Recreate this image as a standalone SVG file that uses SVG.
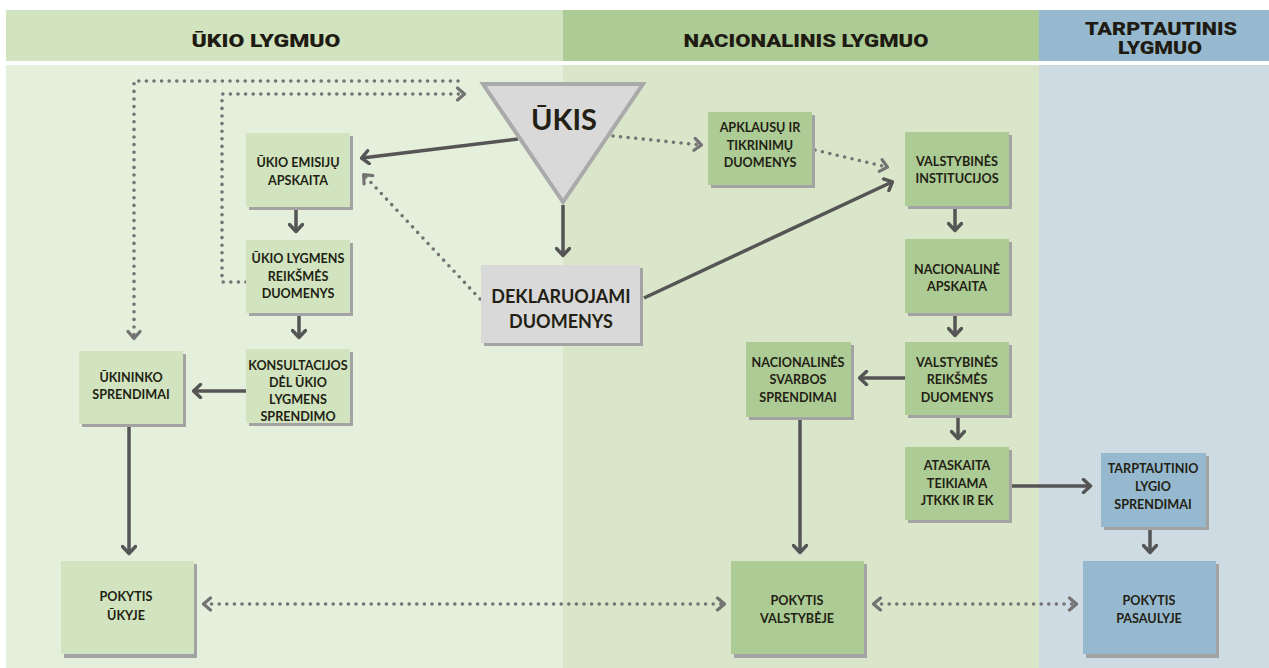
<svg xmlns="http://www.w3.org/2000/svg" width="1269" height="668" viewBox="0 0 1269 668">
<defs>
<style>
.hdr{font-family:Roboto,"Liberation Sans",sans-serif;font-weight:900;font-size:18.5px;fill:#1f1b12;text-anchor:middle}
.t{font-family:Lato,"Liberation Sans",sans-serif;font-weight:700;font-size:12.6px;fill:#231f14;text-anchor:middle}
.big{font-family:Lato,"Liberation Sans",sans-serif;font-weight:700;font-size:18px;fill:#231f14;text-anchor:middle}
.sh{fill:#a3a3a3}
.lg{fill:#d1e4bf}
.gr{fill:#adcb95}
.bl{fill:#96b9cf}
.gy{fill:#d9d9d9}
.solid{fill:none;stroke:#555;stroke-width:3.5;marker-end:url(#ah)}
.dot{fill:none;stroke:#737373;stroke-width:3.6;stroke-dasharray:0 7.6;stroke-linecap:round;marker-end:url(#ad)}
.dot2{fill:none;stroke:#737373;stroke-width:3.6;stroke-dasharray:0 7.6;stroke-linecap:round;marker-end:url(#ad);marker-start:url(#ad)}
</style>
<marker id="ah" viewBox="0 0 12 16" refX="9.5" refY="8" markerWidth="12" markerHeight="16" markerUnits="userSpaceOnUse" orient="auto"><path d="M3,1.5 L10,8 L3,14.5" fill="none" stroke="#555" stroke-width="3.4" stroke-linecap="round" stroke-linejoin="round"/></marker>
<marker id="ad" viewBox="0 0 12 16" refX="9.5" refY="8" markerWidth="12" markerHeight="16" markerUnits="userSpaceOnUse" orient="auto-start-reverse"><path d="M3,2 L10,8 L3,14" fill="none" stroke="#737373" stroke-width="3.2" stroke-linecap="round" stroke-linejoin="round"/></marker>
</defs>
<rect width="1269" height="668" fill="#ffffff"/>
<g id="columns">
<rect x="6" y="10" width="557" height="51" fill="#d1e4bf"/>
<rect x="563" y="10" width="476" height="51" fill="#adcb95"/>
<rect x="1039" y="10" width="230" height="51" fill="#96b9cf"/>
<rect x="6" y="65" width="557" height="603" fill="#e4efdc"/>
<rect x="563" y="65" width="476" height="603" fill="#d9e6ca"/>
<rect x="1039" y="65" width="230" height="603" fill="#cfdbe3"/>
<text class="hdr" x="266" y="47" textLength="149" lengthAdjust="spacingAndGlyphs">ŪKIO LYGMUO</text>
<text class="hdr" x="806" y="47" textLength="245" lengthAdjust="spacingAndGlyphs">NACIONALINIS LYGMUO</text>
<text class="hdr" x="1161" y="35" textLength="152" lengthAdjust="spacingAndGlyphs">TARPTAUTINIS</text>
<text class="hdr" x="1160" y="54" textLength="84" lengthAdjust="spacingAndGlyphs">LYGMUO</text>
</g>
<g id="connectors">
<path class="dot" d="M458,81 H134 V338"/>
<path class="dot" d="M246,282 H222 V94 H464"/>
<path class="solid" d="M518,139 L362,158"/>
<path class="dot" d="M480,299 L364,175"/>
<path class="solid" d="M563,205 V255"/>
<path class="dot" d="M613,136 L701,145"/>
<path class="dot" d="M815,150 L887,167"/>
<path class="solid" d="M644,298 L892,182"/>
<path class="solid" d="M296,209 V231"/>
<path class="solid" d="M299,315 V337"/>
<path class="solid" d="M246,391 H194"/>
<path class="solid" d="M129,427 V553"/>
<path class="solid" d="M955,208 V230"/>
<path class="solid" d="M955,315 V335"/>
<path class="solid" d="M905,378 H860"/>
<path class="solid" d="M958,417 V438"/>
<path class="solid" d="M800,419 V552"/>
<path class="solid" d="M1011,486 H1090"/>
<path class="solid" d="M1150,529 V552"/>
<path class="dot2" d="M204,604 H724"/>
<path class="dot2" d="M874,604 H1076"/>
</g>
<g id="ukis">
<polygon points="483,84 643,84 563,202" fill="#d9d9d9" stroke="#aaaaaa" stroke-width="4" stroke-linejoin="miter"/>
<text class="big" x="564" y="130" style="font-size:29px">ŪKIS</text>
</g>
<g id="ukio-emisiju-apskaita">
<rect class="sh" x="249" y="136" width="104" height="74"/>
<rect class="lg" x="246" y="133" width="104" height="74"/>
<text class="t" x="298" y="167">ŪKIO EMISIJŲ</text>
<text class="t" x="298" y="185">APSKAITA</text>
</g>
<g id="ukio-lygmens-reiksmes-duomenys">
<rect class="sh" x="249" y="243" width="104" height="73"/>
<rect class="lg" x="246" y="240" width="104" height="73"/>
<text class="t" x="298" y="263">ŪKIO LYGMENS</text>
<text class="t" x="298" y="280.5">REIKŠMĖS</text>
<text class="t" x="298" y="298">DUOMENYS</text>
</g>
<g id="konsultacijos">
<rect class="sh" x="249" y="352" width="104" height="74"/>
<rect class="lg" x="246" y="349" width="104" height="74"/>
<text class="t" x="298" y="370">KONSULTACIJOS</text>
<text class="t" x="298" y="387">DĖL ŪKIO</text>
<text class="t" x="298" y="404">LYGMENS</text>
<text class="t" x="298" y="421">SPRENDIMO</text>
</g>
<g id="ukininko-sprendimai">
<rect class="sh" x="82" y="354" width="104" height="73"/>
<rect class="lg" x="79" y="351" width="104" height="73"/>
<text class="t" x="131" y="382">ŪKININKO</text>
<text class="t" x="131" y="399">SPRENDIMAI</text>
</g>
<g id="pokytis-ukyje">
<rect class="sh" x="64" y="564" width="133" height="94"/>
<rect class="lg" x="61" y="561" width="133" height="93"/>
<text class="t" x="126" y="601">POKYTIS</text>
<text class="t" x="126" y="620">ŪKYJE</text>
</g>
<g id="deklaruojami-duomenys">
<rect class="sh" x="484" y="268" width="159" height="78"/>
<rect class="gy" x="481" y="265" width="159" height="78"/>
<text class="big" x="561" y="303">DEKLARUOJAMI</text>
<text class="big" x="561" y="328">DUOMENYS</text>
</g>
<g id="apklausu-ir-tikrinimu-duomenys">
<rect class="sh" x="711" y="115" width="104" height="73"/>
<rect class="gr" x="708" y="112" width="104" height="73"/>
<text class="t" x="760" y="132">APKLAUSŲ IR</text>
<text class="t" x="760" y="150">TIKRINIMŲ</text>
<text class="t" x="760" y="167">DUOMENYS</text>
</g>
<g id="valstybines-institucijos">
<rect class="sh" x="908" y="135" width="104" height="74"/>
<rect class="gr" x="905" y="132" width="104" height="74"/>
<text class="t" x="957" y="166">VALSTYBINĖS</text>
<text class="t" x="957" y="183">INSTITUCIJOS</text>
</g>
<g id="nacionaline-apskaita">
<rect class="sh" x="908" y="242" width="104" height="74"/>
<rect class="gr" x="905" y="239" width="104" height="74"/>
<text class="t" x="957" y="274">NACIONALINĖ</text>
<text class="t" x="957" y="291">APSKAITA</text>
</g>
<g id="valstybines-reiksmes-duomenys">
<rect class="sh" x="908" y="345" width="104" height="73"/>
<rect class="gr" x="905" y="342" width="104" height="73"/>
<text class="t" x="957" y="367">VALSTYBINĖS</text>
<text class="t" x="957" y="384">REIKŠMĖS</text>
<text class="t" x="957" y="402">DUOMENYS</text>
</g>
<g id="nacionalines-svarbos-sprendimai">
<rect class="sh" x="749" y="345" width="105" height="75"/>
<rect class="gr" x="746" y="342" width="105" height="75"/>
<text class="t" x="798" y="367">NACIONALINĖS</text>
<text class="t" x="798" y="384">SVARBOS</text>
<text class="t" x="798" y="402">SPRENDIMAI</text>
</g>
<g id="ataskaita">
<rect class="sh" x="908" y="450" width="104" height="73"/>
<rect class="gr" x="905" y="447" width="104" height="73"/>
<text class="t" x="957" y="470">ATASKAITA</text>
<text class="t" x="957" y="488">TEIKIAMA</text>
<text class="t" x="957" y="505">JTKKK IR EK</text>
</g>
<g id="tarptautinio-lygio-sprendimai">
<rect class="sh" x="1104" y="456" width="105" height="74"/>
<rect class="bl" x="1101" y="453" width="105" height="74"/>
<text class="t" x="1153" y="473">TARPTAUTINIO</text>
<text class="t" x="1153" y="491">LYGIO</text>
<text class="t" x="1153" y="509">SPRENDIMAI</text>
</g>
<g id="pokytis-valstybeje">
<rect class="sh" x="734" y="564" width="133" height="94"/>
<rect class="gr" x="731" y="561" width="133" height="93"/>
<text class="t" x="797" y="605">POKYTIS</text>
<text class="t" x="797" y="623">VALSTYBĖJE</text>
</g>
<g id="pokytis-pasaulyje">
<rect class="sh" x="1086" y="564" width="133" height="94"/>
<rect class="bl" x="1083" y="561" width="133" height="93"/>
<text class="t" x="1149" y="605">POKYTIS</text>
<text class="t" x="1149" y="623">PASAULYJE</text>
</g>
</svg>
